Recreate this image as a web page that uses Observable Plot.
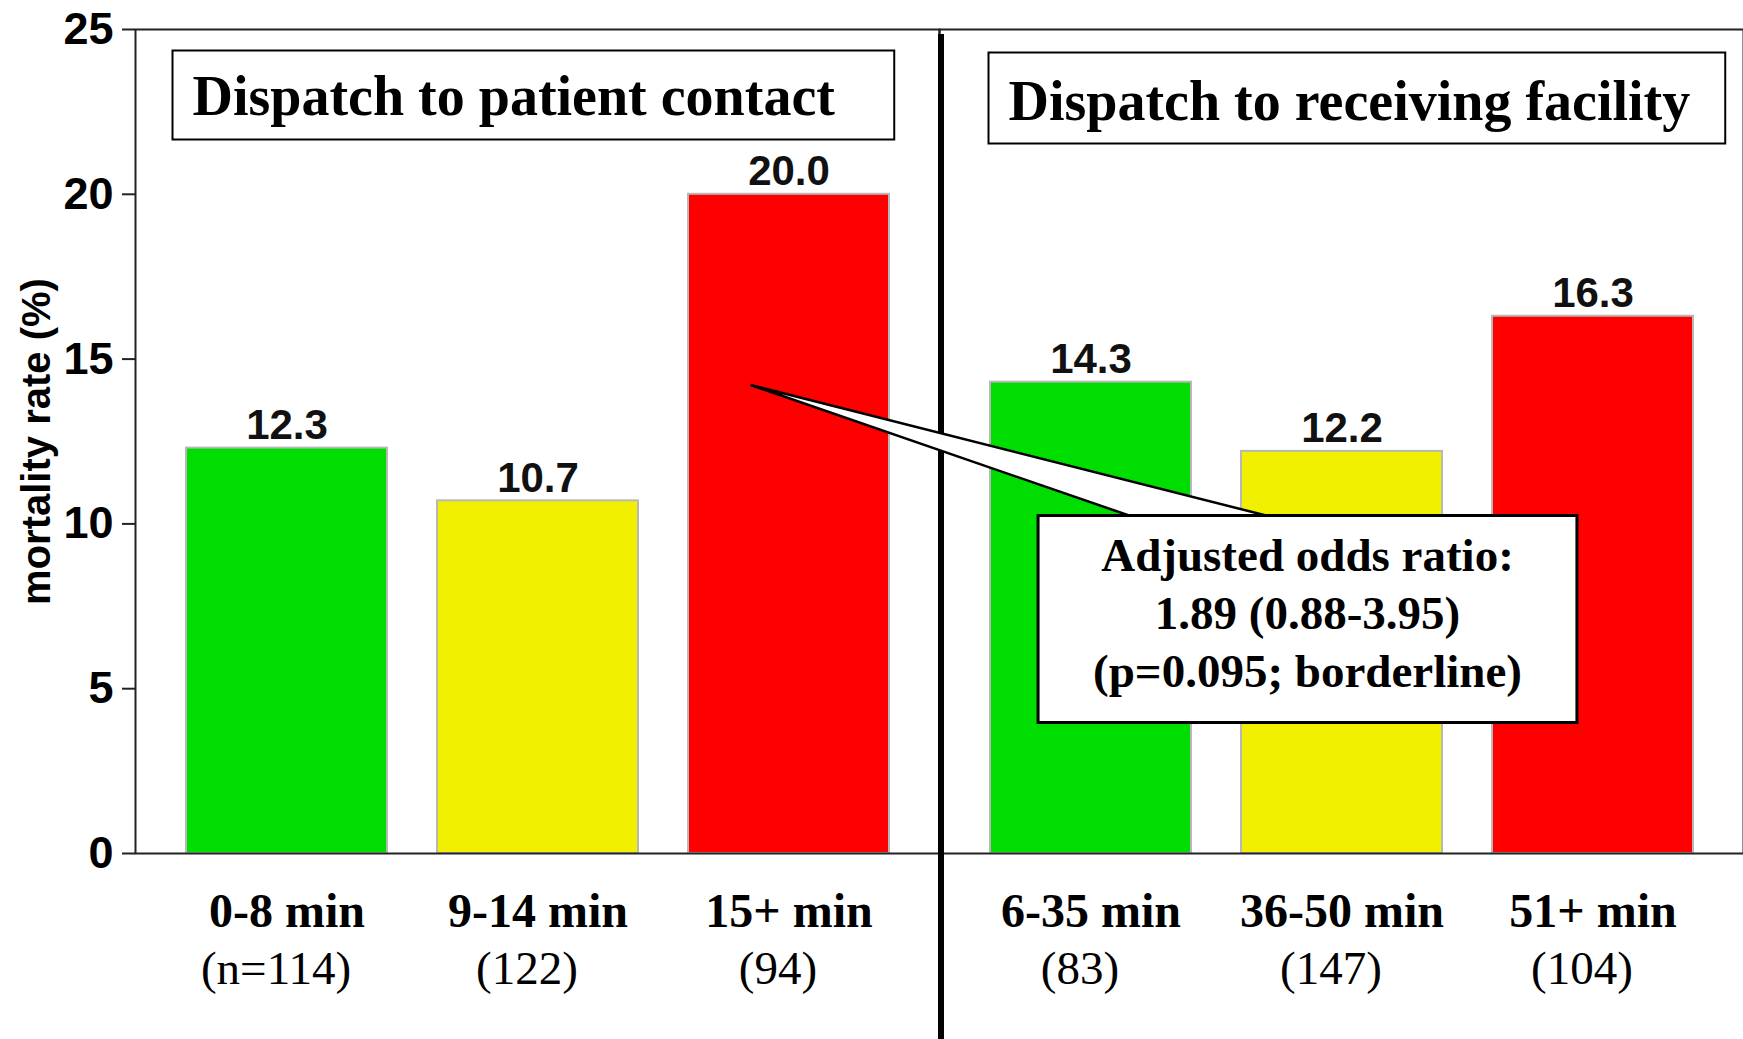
<!DOCTYPE html>
<html>
<head>
<meta charset="utf-8">
<script src="https://cdn.jsdelivr.net/npm/d3@7"></script>
<script src="https://cdn.jsdelivr.net/npm/@observablehq/plot@0.6"></script>
<style>
  html, body { margin: 0; padding: 0; background: #fff; }
  #chart svg { display: block; }
</style>
</head>
<body>
<div id="chart"></div>
<script>
// ---------------- data ----------------
const panelTitles = ["Dispatch to patient contact", "Dispatch to receiving facility"];
const panels = [panelTitles[0], panelTitles[0], panelTitles[0], panelTitles[1], panelTitles[1], panelTitles[1]];
const slots = ["1", "2", "3", "1", "2", "3"];
const timeLabels = ["0-8 min", "9-14 min", "15+ min", "6-35 min", "36-50 min", "51+ min"];
const countLabels = ["(n=114)", "(122)", "(94)", "(83)", "(147)", "(104)"];
const rates = [12.3, 10.7, 20.0, 14.3, 12.2, 16.3];
const slotDomain = ["1", "2", "3"];
const slotColors = ["#00dd00", "#f0f000", "#ff0000"];
const yTicks = [0, 5, 10, 15, 20, 25];
const yLabel = "mortality rate (%)";
const oddsLines = ["Adjusted odds ratio:", "1.89 (0.88-3.95)", "(p=0.095; borderline)"];
const calloutTarget = { panel: panelTitles[0], slot: "3", value: 14.2 };

const data = rates.map((r, i) => ({
  panel: panels[i], slot: slots[i], label: timeLabels[i], n: countLabels[i], rate: r
}));

const SERIF = "'Liberation Serif','Times New Roman',Times,serif";
const SANS = "'Liberation Sans',Arial,Helvetica,sans-serif";

const fig = Plot.plot({
  width: 1743,
  height: 1039,
  marginLeft: 135,
  marginRight: 0,
  marginTop: 29,
  marginBottom: 186,
  style: { fontFamily: SANS, fontSize: "42px", fontWeight: "bold", color: "#000", background: "#fff" },
  fx: { domain: panelTitles, padding: 0, axis: null },
  x: { domain: slotDomain, padding: 0.2, axis: null },
  y: { domain: [0, 25], axis: null },
  color: { domain: slotDomain, range: slotColors },
  marks: [
    Plot.barY(data, { fx: "panel", x: "slot", y: "rate", fill: "slot", stroke: "#b8b8b8", strokeWidth: 2 }),
    Plot.frame({ stroke: "#222", strokeWidth: 2 }),
    Plot.axisY(yTicks, {
      anchor: "left", tickSize: 13, tickPadding: 9, label: null,
      fontSize: 45, fontWeight: "bold", fontFamily: SANS, stroke: "#222", strokeWidth: 2, fill: "#000"
    }),
    Plot.text(data, {
      fx: "panel", x: "slot", y: "rate", text: d => d.rate.toFixed(1),
      dy: -9, lineAnchor: "bottom", fontFamily: SANS, fontSize: 42, fontWeight: "bold", fill: "#111"
    }),
    Plot.text(data, {
      fx: "panel", x: "slot", text: "label", frameAnchor: "bottom",
      dy: 73, lineAnchor: "bottom", fontFamily: SERIF, fontSize: 48, fontWeight: "bold", fill: "#000"
    }),
    Plot.text(data, {
      fx: "panel", x: "slot", text: "n", frameAnchor: "bottom",
      dx: -11, dy: 130, lineAnchor: "bottom", fontFamily: SERIF, fontSize: 47, fontWeight: "normal", fill: "#000"
    }),
    Plot.text([yLabel], {
      fx: () => panelTitles[0], text: d => d, frameAnchor: "left", rotate: -90,
      textAnchor: "middle", lineAnchor: "middle", dx: -98,
      fontFamily: SANS, fontSize: 40, fontWeight: "bold", fill: "#000"
    }),
    Plot.text([panelTitles[0]], {
      fx: d => d, text: d => d, frameAnchor: "top-left", textAnchor: "start", lineAnchor: "bottom",
      dx: 57, dy: 85, fontFamily: SERIF, fontSize: 56, fontWeight: "bold", fill: "#000", className: "ptitle0"
    }),
    Plot.text([panelTitles[1]], {
      fx: d => d, text: d => d, frameAnchor: "top-left", textAnchor: "start", lineAnchor: "bottom",
      dx: 69, dy: 90, fontFamily: SERIF, fontSize: 56, fontWeight: "bold", fill: "#000", className: "ptitle1"
    }),
    Plot.text([oddsLines.join("\n")], {
      fx: () => panelTitles[1], text: d => d, frameAnchor: "top-left",
      textAnchor: "middle", lineAnchor: "middle", lineHeight: 1.23,
      dx: 368, dy: 581, fontFamily: SERIF, fontSize: 47, fontWeight: "bold", fill: "#000", className: "odds"
    })
  ]
});

document.getElementById("chart").appendChild(fig);

// ---------------- overlays positioned from Plot's own scales ----------------
const svgEl = fig.tagName.toLowerCase() === "svg" ? fig : fig.querySelector("svg");
const svg = d3.select(svgEl);
const sFx = fig.scale("fx"), sX = fig.scale("x"), sY = fig.scale("y");
const fx0 = sFx.apply(panelTitles[0]);
const panelOffset = p => sFx.apply(p) - fx0;

function localBox(el) {
  const r = el.getBoundingClientRect(), s = svgEl.getBoundingClientRect();
  return { x: r.left - s.left, y: r.top - s.top, w: r.width, h: r.height };
}

// title boxes
const titlePads = [{ l: 20, r: 59, t: 14, b: 13 }, { l: 20, r: 35, t: 17, b: 12 }];
["ptitle0", "ptitle1"].forEach((cls, i) => {
  const t = svgEl.querySelector("g." + cls + " text");
  if (!t) return;
  const b = localBox(t), p = titlePads[i];
  svg.append("rect")
    .attr("x", b.x - p.l).attr("y", b.y - p.t)
    .attr("width", b.w + p.l + p.r).attr("height", b.h + p.t + p.b)
    .attr("fill", "none").attr("stroke", "#000").attr("stroke-width", 2);
});

// divider between the two panels
const divX = sFx.apply(panelTitles[1]) + 2;
svg.append("line")
  .attr("x1", divX).attr("x2", divX)
  .attr("y1", sY.apply(25) + 5).attr("y2", 1039)
  .attr("stroke", "#000").attr("stroke-width", 6);

// callout box + wedge
const oddsText = svgEl.querySelector("g.odds text");
if (oddsText) {
  const b = localBox(oddsText);
  const cx = b.x + b.w / 2, cy = b.y + b.h / 2;
  const boxW = b.w + 110, boxH = 207;
  const bx = cx - boxW / 2, by = cy + 6 - boxH / 2;
  const tipX = panelOffset(calloutTarget.panel) + sX.apply(calloutTarget.slot) + sX.bandwidth / 2 - 38;
  const tipY = sY.apply(calloutTarget.value);
  svg.append("path")
    .attr("d", `M${tipX},${tipY}L${bx + 91},${by}L${bx + 228},${by}Z`)
    .attr("fill", "#fff").attr("stroke", "#000").attr("stroke-width", 2.5).attr("stroke-linejoin", "miter");
  svg.append("rect")
    .attr("x", bx).attr("y", by).attr("width", boxW).attr("height", boxH)
    .attr("fill", "#fff").attr("stroke", "#000").attr("stroke-width", 3);
  // bring the callout text above its box, keeping its facet transform
  const g = oddsText.closest("g.odds") || oddsText.parentNode;
  const m = g.parentNode.getCTM();
  const wrap = svg.append("g").attr("transform", `matrix(${m.a},${m.b},${m.c},${m.d},${m.e},${m.f})`);
  wrap.node().appendChild(g);
}
</script>
</body>
</html>
